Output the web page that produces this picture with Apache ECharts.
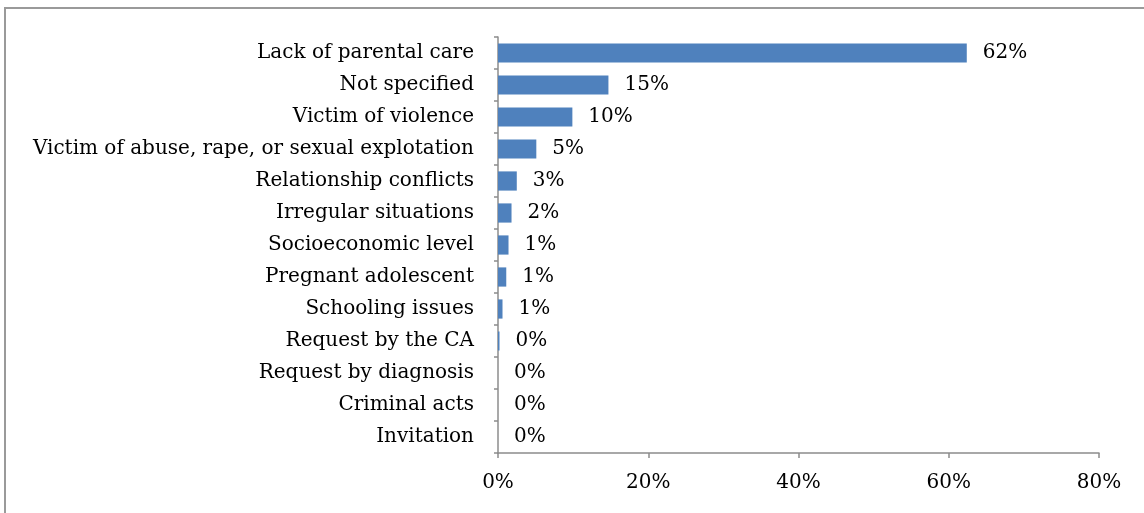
<!DOCTYPE html>
<html><head><meta charset="utf-8">
<script src="https://cdn.jsdelivr.net/npm/echarts@6/dist/echarts.min.js"></script>
<style>html,body{margin:0;padding:0;background:#fff;}#c{width:1144px;height:513px;}</style>
</head><body><div id="c"></div>
<script>
const categories = ["Lack of parental care","Not specified","Victim of violence","Victim of abuse, rape, or sexual explotation","Relationship conflicts","Irregular situations","Socioeconomic level","Pregnant adolescent","Schooling issues","Request by the CA","Request by diagnosis","Criminal acts","Invitation"];
const values = [62.4, 14.7, 9.9, 5.1, 2.5, 1.8, 1.4, 1.1, 0.6, 0.2, 0, 0, 0];
const xTicks = [0, 20, 40, 60, 80];

const font = "DejaVu Serif";
const chart = echarts.init(document.getElementById('c'));
chart.setOption({
  animation: false,
  graphic: [{type:'rect', shape:{x:5,y:8,width:1200,height:600}, style:{fill:'none', stroke:'#9a9a9a', lineWidth:2}, silent:true}],
  grid: {left: 498, right: 45, top: 37, bottom: 60, containLabel: false},
  xAxis: {
    type: 'value', min: xTicks[0], max: xTicks[xTicks.length-1], interval: 20,
    axisLine: {show: true, lineStyle: {color: '#8c8c8c', width: 1.5}},
    axisTick: {show: true, length: 5, lineStyle: {color: '#8c8c8c', width: 1.5}},
    splitLine: {show: false},
    axisLabel: {formatter: v => v + '%', color: '#000', fontFamily: font, fontSize: 20, margin: 20}
  },
  yAxis: {
    type: 'category', data: categories, inverse: true,
    axisLine: {show: true, lineStyle: {color: '#8c8c8c', width: 1.5}},
    axisTick: {show: true, length: 4, lineStyle: {color: '#8c8c8c', width: 1.5}},
    axisLabel: {color: '#000', fontFamily: font, fontSize: 20, margin: 24}
  },
  series: [{
    type: 'bar', data: values, barCategoryGap: '40%',
    itemStyle: {color: '#4f81bd'},
    label: {show: true, position: 'right', distance: 16, formatter: p => Math.round(p.value) + '%', color: '#000', fontFamily: font, fontSize: 20}
  }]
});
</script></body></html>
